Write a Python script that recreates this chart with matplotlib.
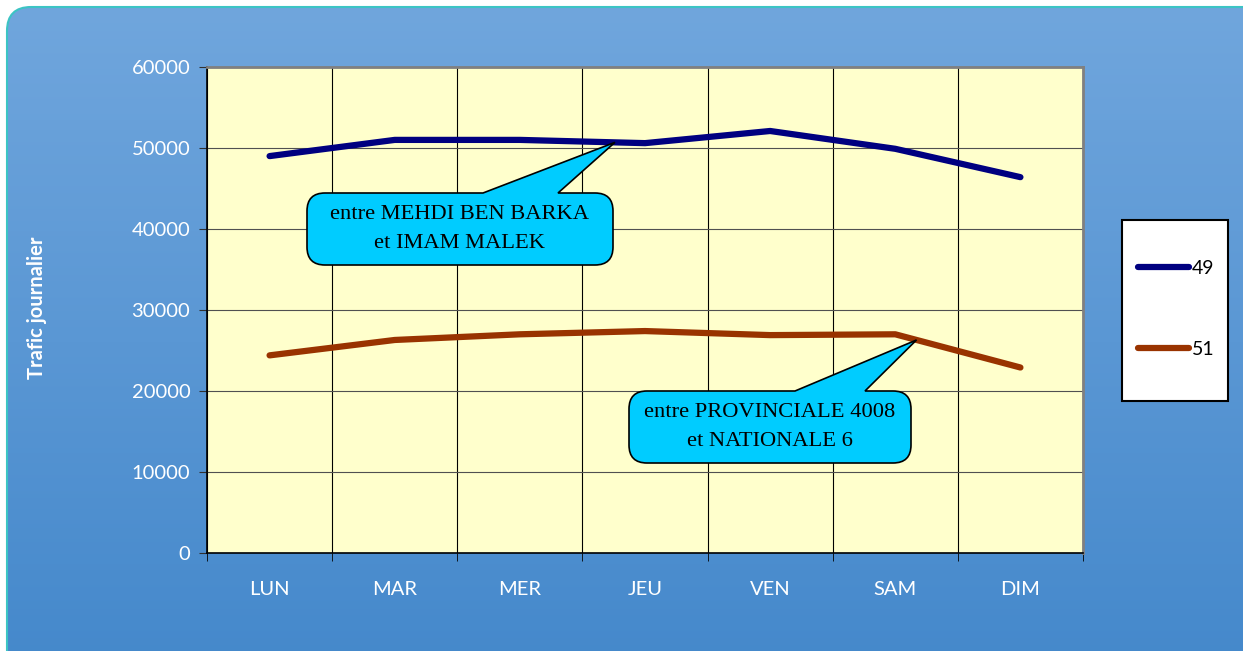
import matplotlib.pyplot as plt
import numpy as np
from matplotlib.patches import FancyBboxPatch, PathPatch, Rectangle
from matplotlib.path import Path

# Data
days = ["LUN", "MAR", "MER", "JEU", "VEN", "SAM", "DIM"]
v49 = [49000, 51000, 51000, 50600, 52100, 49900, 46400]
v51 = [24400, 26300, 27000, 27400, 26900, 27000, 22900]
labels = ["49", "51"]
colors = ["#000080", "#993300"]
notes = ["entre MEHDI BEN BARKA\net IMAM MALEK",
         "entre PROVINCIALE 4008\net NATIONALE 6"]

W, H = 1243, 651
fig = plt.figure(figsize=(W / 100, H / 100), dpi=100)
fig.patch.set_facecolor("white")

# background panel with gradient and rounded corner
bg = fig.add_axes([0, 0, 1, 1], zorder=-5)
bg.set_xlim(0, W)
bg.set_ylim(H, 0)
bg.axis("off")
grad = np.linspace(0, 1, 256).reshape(-1, 1)
top = np.array([0x70, 0xa6, 0xdd]) / 255
bot = np.array([0x44, 0x88, 0xcb]) / 255
img = top + grad[..., None] * (bot - top)
panel = FancyBboxPatch((7, 7), 1260, 670, boxstyle="round,pad=0,rounding_size=24",
                       facecolor="none", edgecolor="#3cc4c4", linewidth=1.5,
                       transform=bg.transData)
im = bg.imshow(img, extent=[7, 1267, 677, 7], aspect="auto", zorder=0)
im.set_clip_path(panel)
bg.add_patch(panel)

# main axes
ax = fig.add_axes([207 / W, 1 - 553 / H, 876 / W, 486 / H])
ax.set_facecolor("#ffffcc")
x = np.arange(len(days))
for vals, lab, col in zip([v49, v51], labels, colors):
    ax.plot(x, vals, color=col, lw=4.5, solid_capstyle="round",
            solid_joinstyle="round", label=lab, zorder=3)

ax.set_xlim(-0.5, 6.5)
ax.set_ylim(0, 60000)
ax.set_yticks(np.arange(0, 60001, 10000))
ax.set_xticks(x)
ax.set_xticklabels(days)
ax.set_xticks(np.arange(-0.5, 7, 1), minor=True)
ax.tick_params(axis="x", which="major", length=0, pad=20)
ax.tick_params(axis="x", which="minor", length=6, direction="out", color="black")
ax.tick_params(axis="y", length=6, direction="out", color="#303030", pad=6)
for lab in ax.get_xticklabels() + ax.get_yticklabels():
    lab.set_fontfamily("Lato")
    lab.set_fontsize(14.5)
    lab.set_color("white")
ax.grid(axis="y", which="major", color="#505050", lw=0.8)
ax.grid(axis="x", which="minor", color="black", lw=0.8)
ax.set_axisbelow(True)
for s in ["left", "bottom"]:
    ax.spines[s].set_color("black")
    ax.spines[s].set_linewidth(1.2)
for s in ["top", "right"]:
    ax.spines[s].set_color("#808080")
    ax.spines[s].set_linewidth(2)

fig.text(37 / W, 1 - 308 / H, "Trafic journalier", rotation=90, ha="center",
         va="center", color="white", fontsize=14.5, fontweight="bold",
         fontfamily="Lato")


def callout(box, base, tip_x, series, text):
    x0, y0, x1, y1 = box
    tx, ty = ax.transData.transform((tip_x, np.interp(tip_x, x, series)))
    ty = H - ty
    r = 18
    verts = [(x0 + r, y0), (base[0], y0), (tx, ty), (base[1], y0), (x1 - r, y0),
             (x1, y0), (x1, y0 + r), (x1, y1 - r), (x1, y1), (x1 - r, y1),
             (x0 + r, y1), (x0, y1), (x0, y1 - r), (x0, y0 + r), (x0, y0),
             (x0 + r, y0), (x0 + r, y0)]
    codes = [Path.MOVETO, Path.LINETO, Path.LINETO, Path.LINETO, Path.LINETO,
             Path.CURVE3, Path.CURVE3, Path.LINETO, Path.CURVE3, Path.CURVE3,
             Path.LINETO, Path.CURVE3, Path.CURVE3, Path.LINETO, Path.CURVE3,
             Path.CURVE3, Path.CLOSEPOLY]
    verts = [(vx / W, 1 - vy / H) for vx, vy in verts]
    patch = PathPatch(Path(verts, codes), facecolor="#00ccff", edgecolor="black",
                      lw=1.2, transform=fig.transFigure, zorder=5)
    fig.add_artist(patch)
    fig.text((x0 + x1) / 2 / W, 1 - (y0 + y1) / 2 / H, text, ha="center",
             va="center", fontsize=16.2, fontfamily="Liberation Serif",
             linespacing=1.75, zorder=6)


callout((307, 193, 613, 265), (483, 558), 2.76, v49, notes[0])
callout((629, 391, 911, 463), (795, 865), 5.17, v51, notes[1])

# legend
fig.add_artist(Rectangle((1122 / W, 1 - 401 / H), 106 / W, 181 / H,
                         transform=fig.transFigure, facecolor="white",
                         edgecolor="black", lw=1.5, zorder=4))
leg = ax.legend(loc="center", bbox_to_anchor=(1176 / W, 1 - 309 / H),
                bbox_transform=fig.transFigure, frameon=False,
                prop={"family": "Lato", "size": 14}, handlelength=2.6,
                handletextpad=0.15, labelspacing=3.3)
leg.set_zorder(7)
leg.remove()
fig.add_artist(leg)

fig.savefig("out.png", dpi=100)
